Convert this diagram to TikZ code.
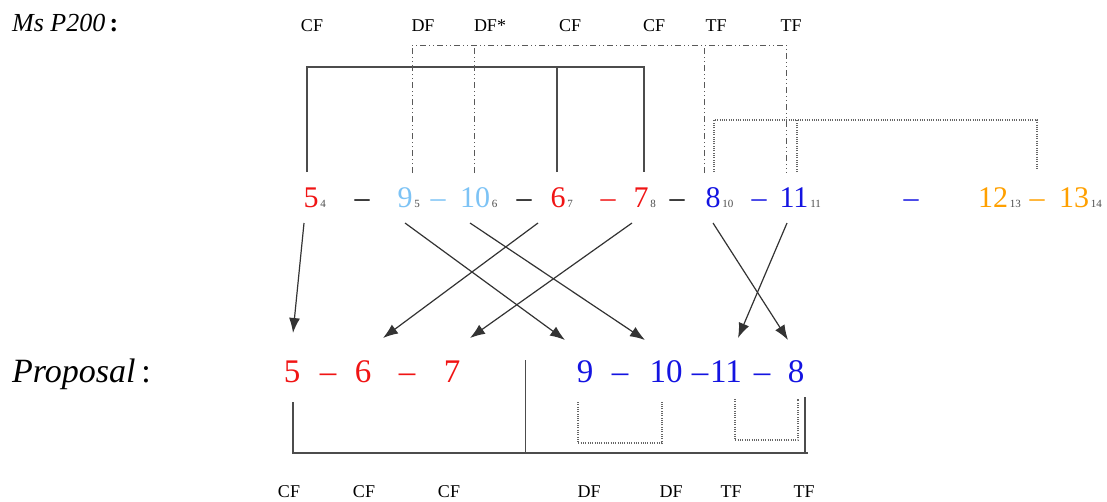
\documentclass[tikz,border=0pt]{standalone}
\usepackage{fontspec}
\setmainfont{Liberation Serif}
\usetikzlibrary{calc,arrows.meta}
\definecolor{cred}{RGB}{240,20,20}
\definecolor{clight}{RGB}{125,195,245}
\definecolor{cblue}{RGB}{20,20,225}
\definecolor{corange}{RGB}{255,160,0}
\begin{document}
\begin{tikzpicture}[x=1pt,y=-1pt,
  up/.style={inner sep=0pt, anchor=base, font=\fontsize{30}{30}\selectfont},
  lo/.style={inner sep=0pt, anchor=base, font=\fontsize{33}{33}\selectfont},
  subn/.style={inner sep=0pt, anchor=base west, xshift=1.5pt, font=\fontsize{11}{11}\selectfont, text=black!70},
  lab/.style={inner sep=0pt, anchor=base, font=\fontsize{18}{18}\selectfont},
  title/.style={inner sep=0pt, anchor=base west},
  br/.style={draw=black!70, line width=1.2pt},
  dd/.style={draw=black!65, line width=1pt, dash pattern=on 6pt off 3pt on 1pt off 3pt on 1pt off 3pt},
  dt/.style={draw=black!60, line width=1.1pt, dash pattern=on 1pt off 1.3pt},
  arr/.style={draw=black!80, line width=1.2pt, -{Latex[length=15pt,width=11pt]}}]
\useasboundingbox (0,0) rectangle (1107,501);

% titles
\node[title] (ms) at (12,31) {\fontsize{26}{26}\selectfont\itshape Ms P200\,\upshape\bfseries :};
\node[title] (prop) at (12,382) {\fontsize{34}{34}\selectfont\itshape Proposal\,\upshape :};

% top labels
\node[lab] (t1) at (312,31) {CF};
\node[lab] (t2) at (423,31) {DF};
\node[lab] (t3) at (490,31) {DF*};
\node[lab] (t4) at (570,31) {CF};
\node[lab] (t5) at (654,31) {CF};
\node[lab] (t6) at (716,31) {TF};
\node[lab] (t7) at (791,31) {TF};

% upper row
\node[up, text=cred] (u5) at (311,207) {5};
\node[subn] (s4) at (u5.base east) {4};
\node[up] (ud1) at (362,207) {–};
\node[up, text=clight] (u9) at (405,207) {9};
\node[subn] (s5) at (u9.base east) {5};
\node[up, text=clight] (ud2) at (438,207) {–};
\node[up, text=clight] (u10) at (475,207) {10};
\node[subn] (s6) at (u10.base east) {6};
\node[up] (ud3) at (524,207) {–};
\node[up, text=cred] (u6) at (558,207) {6};
\node[subn] (s7) at (u6.base east) {7};
\node[up, text=cred] (ud4) at (608,207) {–};
\node[up, text=cred] (u7) at (641,207) {7};
\node[subn] (s8) at (u7.base east) {8};
\node[up] (ud5) at (677,207) {–};
\node[up, text=cblue] (u8) at (713,207) {8};
\node[subn] (s10) at (u8.base east) {10};
\node[up, text=cblue] (ud6) at (759,207) {–};
\node[up, text=cblue] (u11) at (794,207) {11};
\node[subn] (s11) at (u11.base east) {11};
\node[up, text=cblue] (ud7) at (911,207) {–};
\node[up, text=corange] (u12) at (993,207) {12};
\node[subn] (s13) at (u12.base east) {13};
\node[up, text=corange] (ud8) at (1037,207) {–};
\node[up, text=corange] (u13) at (1074,207) {13};
\node[subn] (s14) at (u13.base east) {14};

% lower row
\node[lo, text=cred] (l5) at (292,382) {5};
\node[lo, text=cred] (ld1) at (328,382) {–};
\node[lo, text=cred] (l6) at (363,382) {6};
\node[lo, text=cred] (ld2) at (407,382) {–};
\node[lo, text=cred] (l7) at (452,382) {7};
\node[lo, text=cblue] (l9) at (585,382) {9};
\node[lo, text=cblue] (ld3) at (620,382) {–};
\node[lo, text=cblue] (l10) at (666,382) {10};
\node[lo, text=cblue] (ld4) at (700,382) {–};
\node[lo, text=cblue] (l11) at (726,382) {11};
\node[lo, text=cblue] (ld5) at (762,382) {–};
\node[lo, text=cblue] (l8) at (796,382) {8};

% bottom labels
\node[lab] (b1) at (289,497) {CF};
\node[lab] (b2) at (364,497) {CF};
\node[lab] (b3) at (449,497) {CF};
\node[lab] (b4) at (589,497) {DF};
\node[lab] (b5) at (671,497) {DF};
\node[lab] (b6) at (731,497) {TF};
\node[lab] (b7) at (804,497) {TF};

% top solid bracket (CF)
\coordinate (topbar) at (0,67);
\coordinate (f5) at ($(u5.base)+(-4,-35)$);
\coordinate (f6) at ($(u6.base)+(-1,-35)$);
\coordinate (f7) at ($(u7.base)+(3,-35)$);
\draw[br] (f5) -- (f5 |- topbar) -- (f7 |- topbar) -- (f7);
\draw[br] (f6) -- (f6 |- topbar);

% dash-dot bracket (DF / TF)
\coordinate (ddbar) at (0,45);
\coordinate (g9) at ($(u9.base)+(7,-34)$);
\coordinate (g10) at ($(u10.base)+(-1,-34)$);
\coordinate (g8) at ($(u8.base)+(-9,-34)$);
\coordinate (g11) at ($(u11.base)+(-8,-34)$);
\draw[dd] (g9) -- (g9 |- ddbar) -- (g11 |- ddbar) -- (g11);
\draw[dd] (g10) -- (g10 |- ddbar);
\draw[dd] (g8) -- (g8 |- ddbar);

% dotted bracket (right)
\coordinate (dtbar) at (0,120);
\coordinate (h8) at ($(u8.base)+(1,-35)$);
\coordinate (h11) at ($(u11.base)+(3,-35)$);
\coordinate (h12) at ($(ud8.base)+(0,-37)$);
\draw[dt] (h8) -- (h8 |- dtbar) -- (h12 |- dtbar) -- (h12);
\draw[dt] (h11) -- (h11 |- dtbar);

% arrows
\draw[arr] ($(u5.base)+(-7,16)$) -- ($(l5.base)+(1,-49)$);
\draw[arr] ($(u9.base)+(0,16)$) -- ($(l9.base)+(-20,-42)$);
\draw[arr] ($(u10.base)+(-5,16)$) -- ($(l10.base)+(-21,-42)$);
\draw[arr] ($(u6.base)+(-20,16)$) -- ($(l6.base)+(20,-44)$);
\draw[arr] ($(u7.base)+(-9,16)$) -- ($(l7.base)+(18,-44)$);
\draw[arr] ($(u8.base)+(0,16)$) -- ($(l8.base)+(-8,-42)$);
\draw[arr] ($(u11.base)+(-7,16)$) -- ($(l11.base)+(12,-44)$);

% lower solid bracket
\coordinate (lobar) at (0,453);
\coordinate (sep) at ($(l7.base)!0.55!(l9.base)+(0,-22)$);
\coordinate (k5) at ($(l5.base)+(1,20)$);
\coordinate (k8) at ($(l8.base)+(9,15)$);
\draw[br] (k5) -- (k5 |- lobar) -- ($(k8 |- lobar)+(3,0)$);
\draw[br] (sep) -- (sep |- lobar);
\draw[br] (k8) -- (k8 |- lobar);

% lower dotted brackets
\coordinate (m9) at ($(l9.base)+(-7,20)$);
\coordinate (m10) at ($(l10.base)+(-4,20)$);
\draw[dt] (m9) -- ++(0,41) -| (m10);
\coordinate (m11) at ($(l11.base)+(9,17)$);
\coordinate (m8) at ($(l8.base)+(2,17)$);
\draw[dt] (m11) -- ++(0,41) -| (m8);
\end{tikzpicture}
\end{document}
